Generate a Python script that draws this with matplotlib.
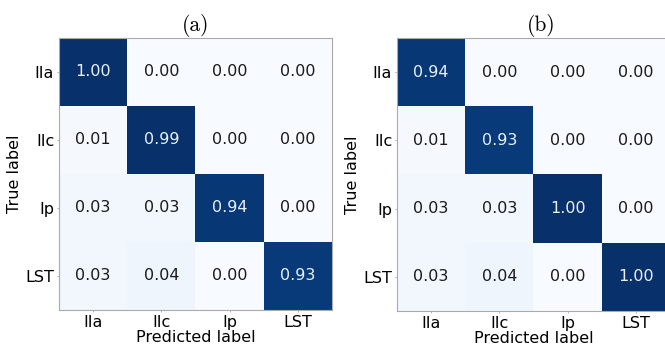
import numpy as np
import matplotlib
matplotlib.use("Agg")
import matplotlib.pyplot as plt

labels = ["IIa", "IIc", "Ip", "LST"]
titles = ["(a)", "(b)"]

cm_a = [[1.00, 0.00, 0.00, 0.00],
        [0.01, 0.99, 0.00, 0.00],
        [0.03, 0.03, 0.94, 0.00],
        [0.03, 0.04, 0.00, 0.93]]

cm_b = [[0.94, 0.00, 0.00, 0.00],
        [0.01, 0.93, 0.00, 0.00],
        [0.03, 0.03, 1.00, 0.00],
        [0.03, 0.04, 0.00, 1.00]]

W, H = 665, 350
fig = plt.figure(figsize=(W / 100, H / 100), dpi=100)

# axes boxes in pixels: left, top, width, height
boxes = [(59, 38, 273, 272), (397, 38, 273, 273)]
title_x = [0.5, 0.53]

cmap = plt.cm.Blues
for cm, title, box, tx in zip([cm_a, cm_b], titles, boxes, title_x):
    l, t, w, h = box
    ax = fig.add_axes([l / W, 1 - (t + h) / H, w / W, h / H])
    cm = np.array(cm)
    ax.imshow(cm, cmap=cmap, vmin=0, vmax=0.97, interpolation="nearest", aspect="auto")
    for i in range(cm.shape[0]):
        for j in range(cm.shape[1]):
            v = cm[i, j]
            c = "#e8f1fb" if v > 0.5 else "#1a1a1a"
            ax.text(j, i, f"{v:.2f}", ha="center", va="center", color=c, fontsize=11.5)
    ax.set_xticks(range(len(labels)))
    ax.set_yticks(range(len(labels)))
    ax.set_xticklabels(labels, fontsize=11.5)
    ax.set_yticklabels(labels, fontsize=11.5)
    ax.tick_params(length=1.5, width=0.5, color="#999999", pad=2)
    ax.set_xlabel("Predicted label", fontsize=11.5, labelpad=0)
    ax.set_ylabel("True label", fontsize=11.5, labelpad=2)
    for s in ax.spines.values():
        s.set_color("#aaaaaa")
        s.set_linewidth(0.8)
    ax.set_title(title, fontsize=15.5, family="cmr10", x=tx, pad=5)

fig.savefig("out.png", dpi=100)
